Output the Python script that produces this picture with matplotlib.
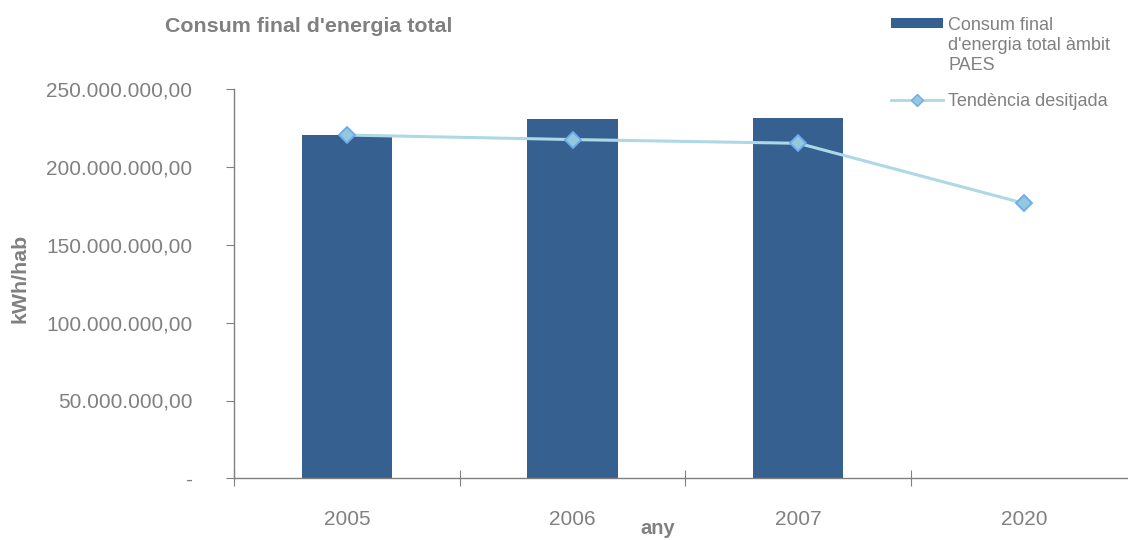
import matplotlib
matplotlib.use("Agg")
import matplotlib.pyplot as plt
from matplotlib.patches import Rectangle
from matplotlib.lines import Line2D
from matplotlib.ticker import FuncFormatter

plt.rcParams['font.family'] = ['Liberation Sans', 'DejaVu Sans']

categories = ['2005', '2006', '2007', '2020']
consum = [220.6e6, 230.7e6, 231.4e6, None]
tendencia = [220.6e6, 217.7e6, 215.3e6, 176.7e6]
yticks = [0, 50e6, 100e6, 150e6, 200e6, 250e6]
legend_labels = ["Consum final\nd'energia total àmbit\nPAES", "Tendència desitjada"]

bar_color = '#36608F'
line_color = '#ADD8E6'
mk_face = '#93C8DD'
mk_edge = '#6BAAF0'
grey = '#808080'

W, H = 1128, 540
fig = plt.figure(figsize=(11.28, 5.4), dpi=100)
ax = fig.add_axes([234/W, 1-478.3/H, 1-234/W, (478.3-89.3)/H])

x = list(range(len(categories)))
bx = [i for i, v in zip(x, consum) if v is not None]
bv = [v for v in consum if v is not None]
ax.bar(bx, bv, width=0.4, color=bar_color, zorder=2)
ax.plot(x, tendencia, color=line_color, lw=2.2, marker='D', ms=8,
        markerfacecolor=mk_face, markeredgecolor=mk_edge, markeredgewidth=1.3, zorder=3)

ax.set_xlim(-0.5, (W-347)/225.7)
ax.set_ylim(0, 250e6)
ax.set_yticks(yticks)

def fmt(v, p):
    if v == 0:
        return '-'
    s = f"{v:,.2f}"
    return s.replace(',', 'X').replace('.', ',').replace('X', '.')
ax.yaxis.set_major_formatter(FuncFormatter(fmt))

ax.set_xticks(x)
ax.set_xticklabels(categories)
ax.set_xticks([-0.5, 0.5, 1.5, 2.5], minor=True)
ax.tick_params(axis='x', which='major', length=0, pad=23, labelsize=15, labelcolor=grey)
ax.tick_params(axis='x', which='minor', length=12, direction='inout', color=grey, width=0.8)
ax.tick_params(axis='y', which='major', length=6, direction='out', color=grey, width=0.8,
               labelsize=15, labelcolor=grey, pad=24)

for s in ['top', 'right']:
    ax.spines[s].set_visible(False)
for s in ['left', 'bottom']:
    ax.spines[s].set_color(grey)
    ax.spines[s].set_linewidth(1.0)

fig.text(165/W, 1-26/H, "Consum final d'energia total", fontsize=15.4, fontweight='bold',
         color=grey, va='center', ha='left')
fig.text(20/W, 1-278/H, "kWh/hab", fontsize=15.4, fontweight='bold', color=grey,
         rotation=90, va='center', ha='center')
fig.text(658/W, 1-529/H, "any", fontsize=14.5, fontweight='bold', color=grey,
         va='center', ha='center')

# manual legend
fig.add_artist(Rectangle((891/W, 1-28/H), 52/W, 10/H, transform=fig.transFigure,
                         facecolor=bar_color, edgecolor='none'))
for k, line in enumerate(legend_labels[0].split('\n')):
    fig.text(948/W, 1-(30.5+20*k)/H, line, fontsize=13, color=grey, va='baseline', ha='left')
fig.add_artist(Line2D([891/W, 943/W], [1-100/H, 1-100/H], transform=fig.transFigure,
                      color=line_color, lw=2))
fig.add_artist(Line2D([917/W], [1-100/H], transform=fig.transFigure, marker='D', ms=6,
                      markerfacecolor=mk_face, markeredgecolor=mk_edge, lw=0))
fig.text(948/W, 1-106.5/H, legend_labels[1], fontsize=13, color=grey, va='baseline', ha='left')

fig.savefig('out.png', dpi=100)
